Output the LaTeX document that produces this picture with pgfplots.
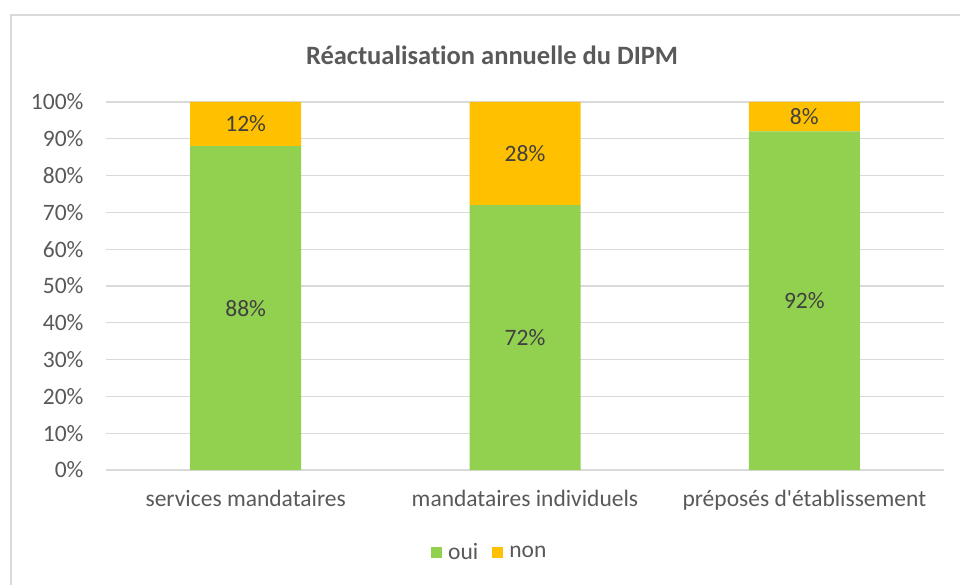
\documentclass[border=0pt]{standalone}
\usepackage{pgfplots}
\pgfplotsset{compat=1.18}
\usepackage{fontspec}
\setmainfont{Carlito}[Ligatures={NoCommon}]
\definecolor{oui}{HTML}{92D050}
\definecolor{non}{HTML}{FFC000}
\definecolor{txt}{HTML}{595959}
\definecolor{lbl}{HTML}{404040}
\definecolor{gridc}{HTML}{D9D9D9}
\begin{document}
\begin{tikzpicture}[x=1pt,y=1pt]
\path[use as bounding box] (0,0) rectangle (960,584);
\draw[color=gridc, line width=2pt] (11,-20) -- (11,569) -- (990,569);
\node[font=\fontsize{26.5}{30}\selectfont\bfseries, text=txt] at (492,529) {Réactualisation annuelle du DIPM};
\pgfplotsset{
  base/.style={
    at={(106pt,114pt)}, anchor=south west,
    scale only axis, width=838pt, height=368pt,
    xmin=-0.5, xmax=2.5, ymin=0, ymax=100,
    axis line style={draw=none},
    major tick length=0pt,
  }
}
\begin{axis}[base,
  ybar stacked, bar width=111pt,
  ytick={0,10,...,100},
  yticklabel={\pgfmathprintnumber{\tick}\%},
  ymajorgrids, grid style={gridc, line width=1.2pt},
  xtick={0,1,2},
  xticklabels={services mandataires, mandataires individuels, préposés d\textquotesingle établissement},
  tick label style={font=\fontsize{23.5}{27}\selectfont, text=txt},
  /pgf/number format/assume math mode=true,
  yticklabel style={xshift=-19pt},
  xticklabel style={yshift=-17pt},
  legend style={draw=none, at={(0.458,-0.223)}, anchor=center, legend columns=2,
    font=\fontsize{23.5}{27}\selectfont, text=txt,
    /tikz/every even column/.append style={column sep=12pt}},
  legend image code/.code={\fill[#1] (0pt,-5.5pt) rectangle (11pt,5.5pt);},
  legend cell align=left,
]
\addplot[fill=oui, draw=none] coordinates {(0,88) (1,72) (2,92)};
\addplot[fill=non, draw=none] coordinates {(0,12) (1,28) (2,8)};
\legend{\hspace{4pt}oui, \hspace{4pt}non}
\end{axis}
\begin{axis}[base, hide axis]
\addplot[only marks, mark=none, nodes near coords, point meta=explicit symbolic,
  every node near coord/.style={anchor=center, font=\fontsize{23.5}{27}\selectfont, text=lbl}]
  coordinates {(0,44)[88\%] (0,94)[12\%] (1,36)[72\%] (1,86)[28\%] (2,46)[92\%] (2,96)[8\%]};
\end{axis}
\end{tikzpicture}
\end{document}
